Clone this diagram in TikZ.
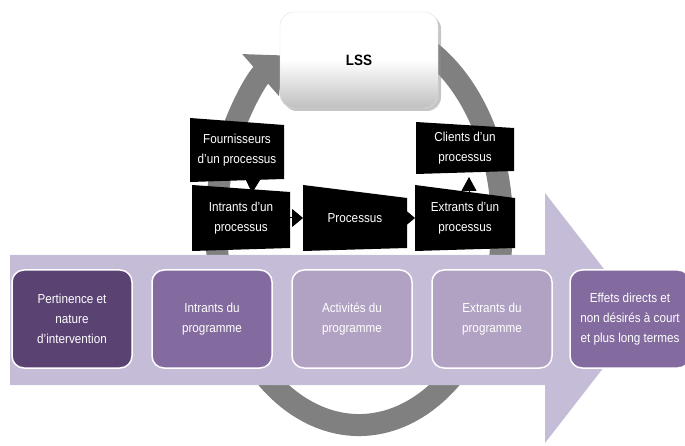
\documentclass[tikz,border=0pt]{standalone}
\usepackage{fontspec}
\setmainfont[FakeStretch=0.9]{Liberation Sans}
\usepackage{tikz}
\usetikzlibrary{arrows.meta, positioning, calc, shadows}

\definecolor{flowback}{HTML}{C5BCD7}
\definecolor{stepdark}{HTML}{5A4272}
\definecolor{stepmid}{HTML}{836B9F}
\definecolor{steplight}{HTML}{B1A2C3}
\definecolor{cyclegray}{HTML}{808080}

\tikzset{
  progbox/.style={draw=white, line width=1.5pt, rounded corners=12pt, minimum width=120pt,
    minimum height=98pt, outer sep=0pt, text=white, align=center, font=\fontsize{13}{20}\selectfont},
  procbox/.style={minimum width=98pt, minimum height=66pt, inner sep=0pt, outer sep=0pt, text=white,
    align=center, font=\fontsize{13}{20}\selectfont,
    path picture={\fill[black] (path picture bounding box.north west)
      -- ([yshift=-#1]path picture bounding box.north east)
      -- ([yshift=3pt]path picture bounding box.south east)
      -- (path picture bounding box.south west) -- cycle;}},
  procbox/.default=7pt,
  flowtip/.style={-{Triangle[width=18pt,length=11pt]}, line width=1pt},
  lssbox/.style={rounded corners=14pt, minimum width=158pt, minimum height=96pt,
    top color=white, bottom color=black!25, middle color=white, draw=black!12,
    drop shadow={shadow xshift=3pt, shadow yshift=-3pt, fill=black!45, opacity=0.5},
    font=\fontsize{15}{18}\selectfont\bfseries},
}

\begin{document}
\begin{tikzpicture}[x=1pt, y=-1pt]
  \useasboundingbox (0,0) rectangle (685,446);
  \clip (0,0) rectangle (685,446);

  % boucle grise
  \coordinate (cyc) at (359,225);
  \draw[cyclegray, line width=22pt, -{Triangle[width=54pt,length=30pt]}]
    ([shift={(-70:143 and 200)}]cyc) arc[start angle=-70, end angle=238, x radius=143, y radius=200];

  % grande fleche
  \fill[flowback] (10,255) -- (545,255) -- (545,193) -- (642,318) -- (545,443)
    -- (545,385) -- (10,385) -- cycle;

  % etapes du programme
  \node[progbox, fill=stepdark] (relev) at (72,319) {Pertinence et\\nature\\d'intervention};
  \node[progbox, fill=stepmid, right=20pt of relev] (inprog) {Intrants du\\programme};
  \node[progbox, fill=steplight, right=20pt of inprog] (actprog) {Activités du\\programme};
  \node[progbox, fill=steplight, right=20pt of actprog] (outprog) {Extrants du\\programme};
  \node[progbox, fill=stepmid, right=20pt of outprog, xshift=-2pt] (effects) {Effets directs et\\non désirés à court\\et plus long termes};

  % chaine du processus
  \node[procbox=13pt, minimum width=104pt] (proc) at (355,218) {Processus};
  \node[procbox, left=13pt of proc] (intr) {Intrants d'un\\processus};
  \node[procbox=13pt, minimum width=100pt, right=8pt of proc] (extr) {Extrants d'un\\processus};
  \node[procbox, minimum width=94pt, minimum height=64pt, above=3pt of intr, xshift=-4pt] (supp) {Fournisseurs\\d'un processus};
  \node[procbox=6pt, minimum height=52pt, above=11pt of extr] (cli) {Clients d'un\\processus};

  \draw[flowtip] (intr) -- (proc);
  \draw[flowtip] (proc) -- (extr);
  \draw[-{Triangle[width=15pt,length=14pt]}, line width=1pt] ([xshift=16pt,yshift=6pt]supp.south) -- ([xshift=11pt,yshift=-8pt]intr.north);
  \draw[-{Triangle[width=15pt,length=14pt]}, line width=1pt] ([xshift=4pt,yshift=-10pt]extr.north) -- ([xshift=4pt,yshift=-3pt]cli.south);

  % LSS
  \node[lssbox] (lss) at (359,60) {LSS};
\end{tikzpicture}
\end{document}
